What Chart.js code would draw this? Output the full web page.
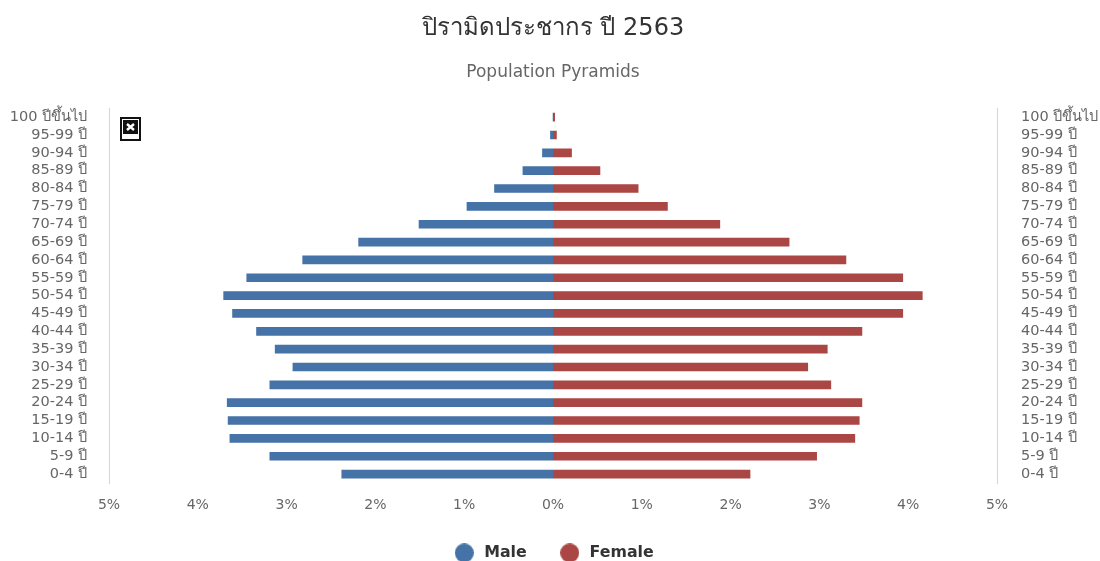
<!DOCTYPE html>
<html>
<head>
<meta charset="utf-8">
<title>ปิรามิดประชากร ปี 2563</title>
<script src="https://cdn.jsdelivr.net/npm/chart.js@4"></script>
<style>
  html, body { margin: 0; padding: 0; background: #fff; }
  #wrap { position: relative; width: 1100px; height: 561px; }
  #brokenIcon { position: absolute; left: 120px; top: 117px; width: 21px; height: 24px; }
</style>
</head>
<body>
<div id="wrap">
  <canvas id="pyramid" width="1100" height="561"></canvas>
  <!-- broken image marker from the original page -->
  <svg id="brokenIcon" viewBox="0 0 21 24">
    <rect x="1" y="1" width="19" height="22" fill="#fff" stroke="#111" stroke-width="2"/>
    <rect x="3" y="3" width="15" height="14" fill="#111"/>
    <path d="M7 7 L14 13 M14 7 L7 13" stroke="#fff" stroke-width="2.4"/>
  </svg>
</div>
<script>
// Age groups, top of the pyramid first
const ageGroups = ['100 ปีขึ้นไป', '95-99 ปี', '90-94 ปี', '85-89 ปี', '80-84 ปี', '75-79 ปี', '70-74 ปี',
    '65-69 ปี', '60-64 ปี', '55-59 ปี', '50-54 ปี', '45-49 ปี', '40-44 ปี', '35-39 ปี', '30-34 ปี',
    '25-29 ปี', '20-24 ปี', '15-19 ปี', '10-14 ปี', '5-9 ปี', '0-4 ปี'];

// Percent of population, male is negative so it draws to the left
const maleValues = [-0.003, -0.04, -0.13, -0.35, -0.67, -0.98, -1.52, -2.20, -2.83, -3.46, -3.72,
    -3.62, -3.35, -3.14, -2.94, -3.20, -3.68, -3.67, -3.65, -3.20, -2.39];
const femaleValues = [0.03, 0.05, 0.22, 0.54, 0.97, 1.30, 1.89, 2.67, 3.31, 3.95, 4.17,
    3.95, 3.49, 3.10, 2.88, 3.14, 3.49, 3.46, 3.41, 2.98, 2.23];

const fontFamily = '"DejaVu Sans", "Noto Sans", sans-serif';
const axisLine = '#ccd6eb';
const maleColor = '#4572a7';
const femaleColor = '#aa4643';

// Legend marker: a 19px dot, so the gap to the text can be set on its own
function makeDot(color) {
    const dot = document.createElement('canvas');
    dot.width = 19;
    dot.height = 19;
    const c = dot.getContext('2d');
    c.fillStyle = color;
    c.beginPath();
    c.arc(9.5, 9.5, 9.5, 0, Math.PI * 2);
    c.fill();
    return dot;
}

// Legend items need a wide gap, but the legend box itself stays short
const shortLegend = {
    id: 'shortLegend',
    beforeInit(chart) {
        const fit = chart.legend.fit;
        chart.legend.fit = function () {
            fit.call(this);
            this.height = 47;
        };
    }
};

const ctx = document.getElementById('pyramid').getContext('2d');
new Chart(ctx, {
    type: 'bar',
    plugins: [shortLegend],
    data: {
        labels: ageGroups,
        datasets: [
            { label: 'Male', data: maleValues, backgroundColor: maleColor, borderColor: '#fff', borderWidth: 1, barThickness: 10, pointStyle: makeDot(maleColor) },
            { label: 'Female', data: femaleValues, backgroundColor: femaleColor, borderColor: '#fff', borderWidth: 1, barThickness: 10, pointStyle: makeDot(femaleColor) }
        ]
    },
    options: {
        indexAxis: 'y',
        responsive: false,
        animation: false,
        layout: { padding: { top: 14, bottom: 0 } },
        scales: {
            x: {
                stacked: true,
                min: -5,
                max: 5,
                grid: { display: false },
                border: { display: false },
                ticks: {
                    stepSize: 1,
                    color: '#666',
                    font: { family: fontFamily, size: 14 },
                    padding: 6,
                    maxRotation: 0,
                    callback: (v) => Math.abs(v) + '%'
                },
                afterFit: (scale) => { scale.height = 31; }
            },
            y: {
                stacked: true,
                position: 'left',
                grid: { display: false, drawTicks: false },
                border: { color: axisLine },
                ticks: { color: '#666', font: { family: fontFamily, size: 14.5 }, padding: 22, autoSkip: false },
                afterFit: (scale) => { scale.width = 109; }
            },
            yRight: {
                type: 'category',
                labels: ageGroups,
                position: 'right',
                grid: { display: false, drawTicks: false },
                border: { color: axisLine },
                ticks: { color: '#666', font: { family: fontFamily, size: 14.5 }, padding: 24, autoSkip: false },
                afterFit: (scale) => { scale.width = 103; }
            }
        },
        plugins: {
            title: {
                display: true,
                fullSize: false,
                text: 'ปิรามิดประชากร ปี 2563',
                color: '#333',
                font: { family: fontFamily, size: 24, weight: 'normal' },
                padding: { top: 0, bottom: 14 }
            },
            subtitle: {
                display: true,
                fullSize: false,
                text: 'Population Pyramids',
                color: '#666',
                font: { family: fontFamily, size: 17, weight: 'normal' },
                padding: { top: 6, bottom: 25 }
            },
            legend: {
                position: 'bottom',
                fullSize: false,
                labels: {
                    usePointStyle: true,
                    pointStyleWidth: 24,
                    boxHeight: 16,
                    color: '#333',
                    font: { family: fontFamily, size: 15.8, weight: 'bold' },
                    padding: 31
                }
            },
            tooltip: { enabled: false }
        }
    }
});
</script>
</body>
</html>
